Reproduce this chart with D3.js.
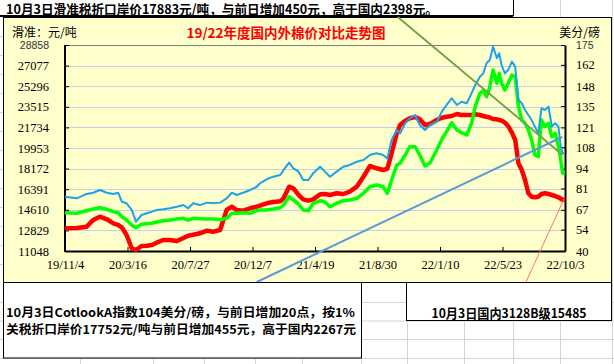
<!DOCTYPE html>
<html>
<head>
<meta charset="utf-8">
<script src="https://cdn.jsdelivr.net/npm/d3@7"></script>
<style>
  body { margin: 0; background: #fff; }
  svg { display: block; }
  .num { font-family: "Liberation Serif", serif; font-size: 12.5px; fill: #000; }
  .cjk { font-family: "Noto Sans CJK SC", sans-serif; }
</style>
</head>
<body>
<svg id="chart"></svg>
<script>
const width = 614, height = 364;

const dates = [
  "2019-11-04","2019-11-29","2019-12-20","2020-01-03","2020-01-17","2020-02-01","2020-02-15","2020-02-25","2020-03-04","2020-03-14",
  "2020-03-25","2020-04-03","2020-04-15","2020-04-26","2020-05-07","2020-05-17","2020-05-31","2020-06-14","2020-06-29","2020-07-13",
  "2020-07-23","2020-08-03","2020-08-17","2020-09-01","2020-09-15","2020-09-29","2020-10-13","2020-10-24","2020-11-03","2020-11-17",
  "2020-12-02","2020-12-16","2020-12-23","2021-01-06","2021-01-20","2021-02-04","2021-02-11","2021-02-23","2021-03-04","2021-03-15",
  "2021-03-25","2021-04-05","2021-04-15","2021-04-30","2021-05-10","2021-05-21","2021-06-04","2021-06-18","2021-07-02","2021-07-17",
  "2021-07-31","2021-08-14","2021-08-28","2021-09-11","2021-09-20","2021-09-29","2021-10-10","2021-10-17","2021-10-28","2021-11-07",
  "2021-11-18","2021-11-28","2021-12-09","2021-12-20","2022-01-03","2022-01-14","2022-01-24","2022-02-04","2022-02-15","2022-02-25",
  "2022-03-08","2022-03-18","2022-03-26","2022-04-05","2022-04-12","2022-04-19","2022-04-26","2022-05-03","2022-05-11","2022-05-16",
  "2022-05-21","2022-05-28","2022-06-04","2022-06-12","2022-06-19","2022-06-26","2022-07-03","2022-07-10","2022-07-17","2022-07-24",
  "2022-07-31","2022-08-07","2022-08-14","2022-08-21","2022-08-29","2022-09-05","2022-09-12","2022-09-19","2022-09-24","2022-09-28",
  "2022-10-03"
];

// Cotlook A index, US cents/lb (right axis) - blue
const cotlookA = [
  75.6, 74.5, 77.4, 78.2, 80.0, 78.2, 77.4, 78.2, 72.3, 71.3,
  66.9, 59.2, 63.6, 64.7, 65.8, 66.9, 67.3, 68.0, 69.0, 70.1,
  68.0, 71.3, 70.1, 71.7, 71.3, 71.7, 74.5, 78.2, 76.7, 78.2,
  80.0, 82.1, 84.4, 87.0, 88.7, 89.8, 93.1, 97.9, 94.2, 92.0,
  86.5, 86.5, 90.9, 95.2, 92.0, 88.7, 92.0, 95.2, 96.4, 98.5,
  99.6, 102.9, 104.0, 102.9, 100.7, 112.7, 119.3, 117.1, 123.7, 127.0,
  129.1, 122.6, 119.3, 122.6, 124.7, 131.3, 135.7, 140.1, 135.7, 137.8,
  136.8, 143.3, 148.8, 154.2, 156.4, 163.0, 165.2, 174.0, 166.3, 169.6,
  161.9, 156.4, 158.6, 164.1, 160.8, 139.0, 136.8, 132.4, 129.1, 125.8,
  121.5, 117.1, 133.5, 132.4, 134.6, 121.5, 123.7, 121.5, 108.3, 104.0,
  104
];

// import price at 1% tariff, yuan/t (left axis) - green
const importPrice = [
  14359, 14308, 14532, 14679, 14792, 14653, 14446, 14359, 14014, 13728,
  13296, 13062, 13356, 13408, 13443, 13555, 13668, 13728, 13815, 13875,
  13728, 13875, 13845, 13815, 13815, 13754, 13875, 14308, 14308, 14359,
  14308, 14532, 14593, 14593, 14679, 14792, 15025, 15743, 15457, 15112,
  14593, 14532, 15172, 15397, 15285, 14878, 15172, 15397, 15457, 15604,
  16037, 16607, 16754, 16607, 16037, 17187, 18484, 18630, 19348, 20066,
  20066, 19348, 18397, 18682, 19780, 20706, 21363, 22141, 21510, 21276,
  21077, 22089, 23524, 24683, 24907, 24389, 25253, 26697, 25547, 26412,
  25547, 24968, 25547, 26265, 26118, 23524, 22374, 22089, 21510, 20645,
  19348, 19201, 22374, 21795, 22089, 20930, 21224, 20066, 18916, 17766,
  17752
];

// domestic 3128B price, yuan/t (left axis) - red
const domestic = [
  13011, 13037, 13149, 13728, 14014, 13789, 13443, 13296, 13097, 12431,
  11281, 11134, 11480, 11506, 11567, 11766, 11999, 11999, 11913, 12172,
  12371, 12457, 12578, 12803, 12717, 12864, 14593, 14878, 14593, 14532,
  14740, 14878, 14965, 15172, 15285, 15345, 15604, 16607, 16469, 15890,
  15518, 15397, 15518, 15950, 15976, 15890, 16037, 15976, 16175, 16607,
  17472, 18397, 18198, 18051, 18164, 19495, 21224, 21942, 22314, 22521,
  22634, 22435, 21942, 22028, 22374, 22573, 22660, 22720, 22893, 22807,
  22807, 22807, 22867, 22807, 22720, 22660, 22573, 22461, 22435, 22374,
  22314, 22141, 21856, 21276, 20645, 18630, 18051, 17187, 16037, 15743,
  15691, 15743, 15976, 16037, 15976, 15890, 15803, 15691, 15570, 15483,
  15485
];

const leftTicks = [11048, 12829, 14610, 16391, 18172, 19953, 21734, 23515, 25296, 27077, 28858];
const rightTicks = [40, 54, 67, 81, 94, 108, 121, 135, 148, 162, 175];
const xTickLabels = ["19/11/4", "20/3/16", "20/7/27", "20/12/7", "21/4/19", "21/8/30", "22/1/10", "22/5/23", "22/10/3"];

// drawn-on arrows (date, left-axis value)
const arrowGreen = [["2021-10-12", 31280], ["2022-09-28", 19348]];
const arrowBlue = [["2020-12-16", 8368], ["2022-09-27", 20904]];
const arrowRed = [["2022-10-01", 15544], ["2022-07-12", 8368]];

const headerText = "10月3日滑准税折口岸价17883元/吨，与前日增加450元，高于国内2398元。";
const noteLines = ["10月3日CotlookA指数104美分/磅，与前日增加20点，按1%", "关税折口岸价17752元/吨与前日增加455元，高于国内2267元"];
const domesticNote = "10月3日国内3128B级15485";

const parseDate = d3.timeParse("%Y-%m-%d");
const parseTick = d3.timeParse("%y/%m/%d");

const svg = d3.select("#chart").attr("width", width).attr("height", height);

// spreadsheet grid behind everything
const gridCols = [80, 153, 204, 255, 302, 361, 407, 464, 513, 560, 612];
const gridRows = [302, 320.5, 339, 358];
const sheet = svg.append("g").attr("stroke", "#d4d4d4").attr("stroke-width", 1);
gridCols.forEach(x => sheet.append("line").attr("x1", x + 0.5).attr("x2", x + 0.5).attr("y1", 0).attr("y2", height));
gridRows.forEach(y => sheet.append("line").attr("x1", 0).attr("x2", width).attr("y1", y + 0.5).attr("y2", y + 0.5));
d3.range(36, 282, 19).forEach(y => sheet.append("line").attr("x1", 0).attr("x2", 3).attr("y1", y + 0.5).attr("y2", y + 0.5));

// header cell
svg.append("rect").attr("x", 0).attr("y", 0).attr("width", 513).attr("height", 16).attr("fill", "#fff");
svg.append("line").attr("x1", 0).attr("x2", 513).attr("y1", 16).attr("y2", 16).attr("stroke", "#000").attr("stroke-width", 2);
svg.append("line").attr("x1", 513.5).attr("x2", 513.5).attr("y1", 0).attr("y2", 16).attr("stroke", "#000");
svg.append("text").attr("class", "cjk").attr("x", 6).attr("y", 14)
    .attr("textLength", 432).attr("lengthAdjust", "spacingAndGlyphs")
    .style("font-size", "13px").style("font-weight", "bold").text(headerText);

// chart area
const area = { left: 3, top: 17, right: 611, bottom: 282 };
svg.append("rect")
    .attr("x", area.left + 0.5).attr("y", area.top + 0.5)
    .attr("width", area.right - area.left).attr("height", area.bottom - area.top)
    .attr("fill", "#FFFFCC").attr("stroke", "#000");

const plot = { left: 65, top: 45, right: 565, bottom: 251 };

const xScale = d3.scaleTime()
    .domain([parseDate(dates[0]), parseDate(dates[dates.length - 1])])
    .range([plot.left, plot.right]);
const yLeft = d3.scaleLinear().domain([leftTicks[0], leftTicks[leftTicks.length - 1]]).range([plot.bottom, plot.top]);
const yRight = d3.scaleLinear().domain([rightTicks[0], rightTicks[rightTicks.length - 1]]).range([plot.bottom, plot.top]);

// horizontal gridlines
svg.append("g").selectAll("line")
    .data(leftTicks.slice(1, -1))
    .enter().append("line")
    .attr("x1", plot.left).attr("x2", plot.right)
    .attr("y1", d => Math.round(yLeft(d)) + 0.5).attr("y2", d => Math.round(yLeft(d)) + 0.5)
    .attr("stroke", "#c4cdf2").attr("stroke-width", 1);
// top border of plot area
svg.append("line").attr("x1", plot.left).attr("x2", plot.right)
    .attr("y1", plot.top + 0.5).attr("y2", plot.top + 0.5).attr("stroke", "#808080");

// titles
svg.append("text").attr("class", "cjk").attr("x", 12).attr("y", 36.5)
    .style("font-size", "12px").text("滑准：元/吨");
svg.append("text").attr("class", "cjk").attr("x", 600).attr("y", 36.5).attr("text-anchor", "end")
    .style("font-size", "12px").text("美分/磅");
svg.append("text").attr("class", "cjk").attr("x", 286).attr("y", 38).attr("text-anchor", "middle")
    .style("font-size", "13.5px").style("font-weight", "bold").attr("fill", "#ff0000")
    .text("19/22年度国内外棉价对比走势图");

// axes
function styleAxis(g) {
    g.select(".domain").attr("stroke", "#000").attr("stroke-width", 2);
    g.selectAll(".tick line").attr("stroke", "#000");
    g.selectAll(".tick text").attr("class", "num").attr("fill", "#000");
}

const leftAxis = svg.append("g")
    .attr("transform", `translate(${plot.left},0)`)
    .call(d3.axisLeft(yLeft).tickValues(leftTicks).tickSize(-4).tickSizeOuter(0).tickPadding(16).tickFormat(d3.format("d")))
    .call(styleAxis);
leftAxis.select(".domain").remove();

const rightAxis = svg.append("g")
    .attr("transform", `translate(${plot.right},0)`)
    .call(d3.axisRight(yRight).tickValues(rightTicks).tickSize(-4).tickSizeOuter(0).tickPadding(11).tickFormat(d3.format("d")))
    .call(styleAxis);

// top labels look lighter/smaller in the original
[leftAxis, rightAxis].forEach(g => g.selectAll(".tick text")
    .filter(d => d === leftTicks[leftTicks.length - 1] || d === rightTicks[rightTicks.length - 1])
    .attr("class", null)
    .style("font-family", "Liberation Sans, sans-serif").style("font-size", "10.5px").attr("fill", "#333"));

const xTicks = xTickLabels.map(parseTick);
const bottomAxis = svg.append("g")
    .attr("transform", `translate(0,${plot.bottom})`)
    .call(d3.axisBottom(xScale).tickValues(xTicks).tickSize(-4).tickSizeOuter(0).tickPadding(9)
        .tickFormat((d, i) => xTickLabels[i]))
    .call(styleAxis);

// left axis line on top of everything in the plot
svg.append("line").attr("x1", plot.left).attr("x2", plot.left).attr("y1", plot.top).attr("y2", plot.bottom + 1)
    .attr("stroke", "#000").attr("stroke-width", 2);

// series
const rows = dates.map((d, i) => ({ date: parseDate(d), a: cotlookA[i], imp: importPrice[i], dom: domestic[i] }));

const lineLeft = key => d3.line().x(d => xScale(d.date)).y(d => yLeft(d[key]));
const lineRight = key => d3.line().x(d => xScale(d.date)).y(d => yRight(d[key]));

svg.append("path").datum(rows)
    .attr("d", lineLeft("dom")).attr("fill", "none")
    .attr("stroke", "#ff0000").attr("stroke-width", 4.5).attr("stroke-linejoin", "round");
svg.append("path").datum(rows)
    .attr("d", lineLeft("imp")).attr("fill", "none")
    .attr("stroke", "#00ff00").attr("stroke-width", 3.5).attr("stroke-linejoin", "round");
svg.append("path").datum(rows)
    .attr("d", lineRight("a")).attr("fill", "none")
    .attr("stroke", "#1aa3e8").attr("stroke-width", 2).attr("stroke-linejoin", "round");

// drawn arrows
const arrowLine = d3.line().x(d => xScale(parseDate(d[0]))).y(d => yLeft(d[1]));
svg.append("path").attr("d", arrowLine(arrowGreen)).attr("fill", "none")
    .attr("stroke", "#77a24a").attr("stroke-width", 2);
svg.append("path").attr("d", arrowLine(arrowBlue)).attr("fill", "none")
    .attr("stroke", "#5b9bd5").attr("stroke-width", 2);
svg.append("path").attr("d", arrowLine(arrowRed)).attr("fill", "none")
    .attr("stroke", "#ff7070").attr("stroke-width", 1);

// note boxes under the chart
svg.append("rect").attr("x", 3.5).attr("y", 282.5).attr("width", 358).attr("height", 75.5)
    .attr("fill", "#fff").attr("stroke", "#000");
const noteWidths = [349, 350];
svg.append("g").selectAll("text")
    .data(noteLines)
    .enter().append("text")
    .attr("class", "cjk")
    .attr("x", 6)
    .attr("y", (d, i) => 316.5 + i * 17.5)
    .attr("textLength", (d, i) => noteWidths[i]).attr("lengthAdjust", "spacingAndGlyphs")
    .style("font-size", "12px").style("font-weight", "bold")
    .text(d => d);

svg.append("rect").attr("x", 406.5).attr("y", 282.5).attr("width", 205).attr("height", 38)
    .attr("fill", "#fff").attr("stroke", "#000");
svg.append("text").attr("class", "cjk").attr("x", 509).attr("y", 317.5).attr("text-anchor", "middle")
    .attr("textLength", 155).attr("lengthAdjust", "spacingAndGlyphs")
    .style("font-size", "13px").style("font-weight", "bold").text(domesticNote);
</script>
</body>
</html>
